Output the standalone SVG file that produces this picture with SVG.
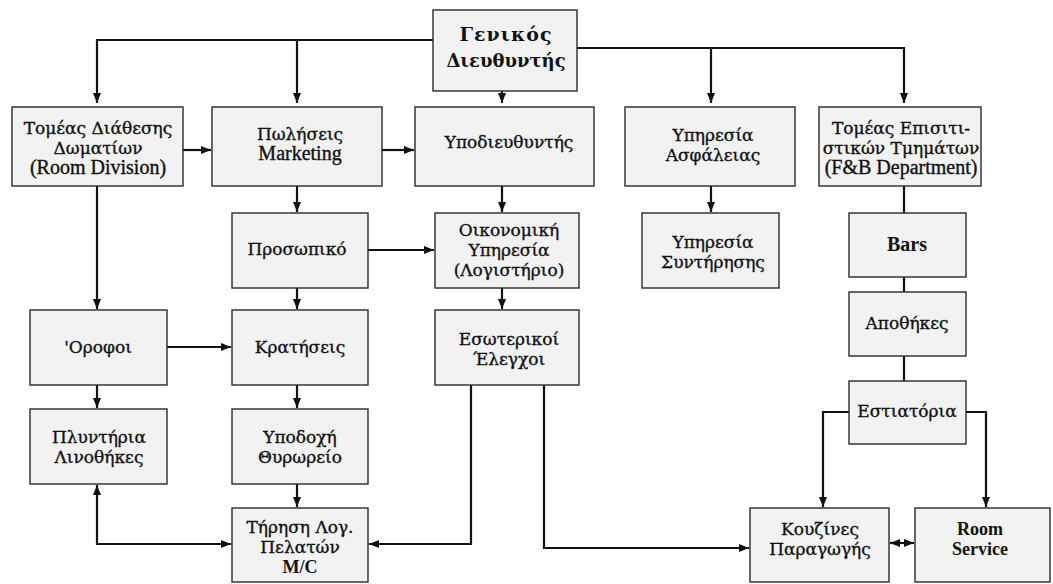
<svg xmlns="http://www.w3.org/2000/svg" width="1053" height="584" viewBox="0 0 1053 584">
<style>
.box{fill:#f2f2f2;stroke:#2a2a2a;stroke-width:1.4}
.t{font-family:"DejaVu Serif","Liberation Serif",serif;font-size:17px;fill:#111;text-anchor:middle;stroke:#111;stroke-width:0.35}
.l{font-family:"Liberation Serif","Times New Roman",serif;font-size:20px}
.b{font-weight:bold;stroke-width:0}
.c{fill:none;stroke:#111;stroke-width:2.2}
</style>
<defs>
<marker id="ah" viewBox="0 0 10 10" refX="10" refY="5" markerWidth="10" markerHeight="8" orient="auto-start-reverse" markerUnits="userSpaceOnUse" preserveAspectRatio="none">
<path d="M0,0 L10,5 L0,10 z" fill="#111"/>
</marker>
</defs>
<rect width="1053" height="584" fill="#fff"/>
<g id="connectors">
<path class="c" d="M433,40 H97 V103" marker-end="url(#ah)"/>
<path class="c" d="M297,40 V103" marker-end="url(#ah)"/>
<path class="c" d="M502,91 V103" marker-end="url(#ah)"/>
<path class="c" d="M577,48 H904 V103" marker-end="url(#ah)"/>
<path class="c" d="M711,48 V103" marker-end="url(#ah)"/>
<path class="c" d="M183,150 H211" marker-end="url(#ah)"/>
<path class="c" d="M382,150 H414" marker-end="url(#ah)"/>
<path class="c" d="M297,186 V212" marker-end="url(#ah)"/>
<path class="c" d="M502,186 V212" marker-end="url(#ah)"/>
<path class="c" d="M711,186 V212" marker-end="url(#ah)"/>
<path class="c" d="M904,186 V213"/>
<path class="c" d="M904,277 V292"/>
<path class="c" d="M904,356 V381"/>
<path class="c" d="M368,250 H434" marker-end="url(#ah)"/>
<path class="c" d="M97,186 V309" marker-end="url(#ah)"/>
<path class="c" d="M297,288 V309" marker-end="url(#ah)"/>
<path class="c" d="M502,288 V309" marker-end="url(#ah)"/>
<path class="c" d="M167,347 H231" marker-end="url(#ah)"/>
<path class="c" d="M97,385 V408" marker-end="url(#ah)"/>
<path class="c" d="M297,385 V408" marker-end="url(#ah)"/>
<path class="c" d="M297,484 V507" marker-end="url(#ah)"/>
<path class="c" d="M97,485 V544 H231" marker-start="url(#ah)" marker-end="url(#ah)"/>
<path class="c" d="M471,385 V544 H369" marker-end="url(#ah)"/>
<path class="c" d="M544,385 V548 H749" marker-end="url(#ah)"/>
<path class="c" d="M849,412 H823 V507" marker-end="url(#ah)"/>
<path class="c" d="M966,412 H986 V507" marker-end="url(#ah)"/>
<path class="c" d="M890,543 H914" marker-start="url(#ah)" marker-end="url(#ah)"/>
</g>
<g id="n-gm"><rect class="box" x="433" y="10" width="144" height="81"/><text class="t b" x="506" y="41" style="font-size:19px;letter-spacing:1px">Γενικός</text><text class="t b" x="506" y="67" style="font-size:18px">Διευθυντής</text></g>
<g id="n-room"><rect class="box" x="12" y="107" width="171" height="79"/><text class="t" x="98" y="134">Τομέας Διάθεσης</text><text class="t" x="98" y="154">Δωματίων</text><text class="t l" x="98" y="174">(Room Division)</text></g>
<g id="n-sales"><rect class="box" x="212" y="107" width="170" height="79"/><text class="t" x="300" y="140">Πωλήσεις</text><text class="t l" x="300" y="160">Marketing</text></g>
<g id="n-deputy"><rect class="box" x="415" y="107" width="179" height="79"/><text class="t" x="509" y="148">Υποδιευθυντής</text></g>
<g id="n-security"><rect class="box" x="625" y="107" width="170" height="79"/><text class="t" x="713" y="141">Υπηρεσία</text><text class="t" x="713" y="161">Ασφάλειας</text></g>
<g id="n-fb"><rect class="box" x="819" y="107" width="162" height="79"/><text class="t" x="901" y="134">Τομέας Επισιτι-</text><text class="t" x="901" y="154">στικών Τμημάτων</text><text class="t l" x="901" y="174">(F&amp;B Department)</text></g>
<g id="n-staff"><rect class="box" x="232" y="213" width="136" height="75"/><text class="t" x="297" y="255">Προσωπικό</text></g>
<g id="n-finance"><rect class="box" x="435" y="213" width="144" height="75"/><text class="t" x="509" y="236">Οικονομική</text><text class="t" x="509" y="256">Υπηρεσία</text><text class="t" x="509" y="276">(Λογιστήριο)</text></g>
<g id="n-maint"><rect class="box" x="642" y="213" width="137" height="75"/><text class="t" x="713" y="248">Υπηρεσία</text><text class="t" x="713" y="268">Συντήρησης</text></g>
<g id="n-bars"><rect class="box" x="849" y="213" width="117" height="64"/><text class="t l b" x="907" y="251">Bars</text></g>
<g id="n-stores"><rect class="box" x="849" y="292" width="117" height="64"/><text class="t" x="907" y="329">Αποθήκες</text></g>
<g id="n-rest"><rect class="box" x="849" y="381" width="117" height="63"/><text class="t" x="907" y="417">Εστιατόρια</text></g>
<g id="n-floors"><rect class="box" x="30" y="310" width="137" height="75"/><text class="t" x="98" y="353">'Οροφοι</text></g>
<g id="n-reserv"><rect class="box" x="232" y="310" width="136" height="75"/><text class="t" x="300" y="353">Κρατήσεις</text></g>
<g id="n-audit"><rect class="box" x="435" y="310" width="144" height="75"/><text class="t" x="509" y="345">Εσωτερικοί</text><text class="t" x="509" y="365">Έλεγχοι</text></g>
<g id="n-laundry"><rect class="box" x="30" y="409" width="137" height="75"/><text class="t" x="99" y="443">Πλυντήρια</text><text class="t" x="99" y="463">Λινοθήκες</text></g>
<g id="n-reception"><rect class="box" x="232" y="409" width="136" height="75"/><text class="t" x="300" y="443">Υποδοχή</text><text class="t" x="300" y="463">Θυρωρείο</text></g>
<g id="n-accounts"><rect class="box" x="232" y="508" width="136" height="74"/><text class="t" x="300" y="533">Τήρηση Λογ.</text><text class="t" x="300" y="553">Πελατών</text><text class="t l b" x="300" y="573" style="font-size:18px">M/C</text></g>
<g id="n-kitchen"><rect class="box" x="750" y="508" width="139" height="74"/><text class="t" x="820" y="535">Κουζίνες</text><text class="t" x="820" y="555">Παραγωγής</text></g>
<g id="n-roomservice"><rect class="box" x="915" y="508" width="135" height="74"/><text class="t l b" x="980" y="535" style="font-size:18px">Room</text><text class="t l b" x="980" y="555" style="font-size:18px">Service</text></g>
</svg>
